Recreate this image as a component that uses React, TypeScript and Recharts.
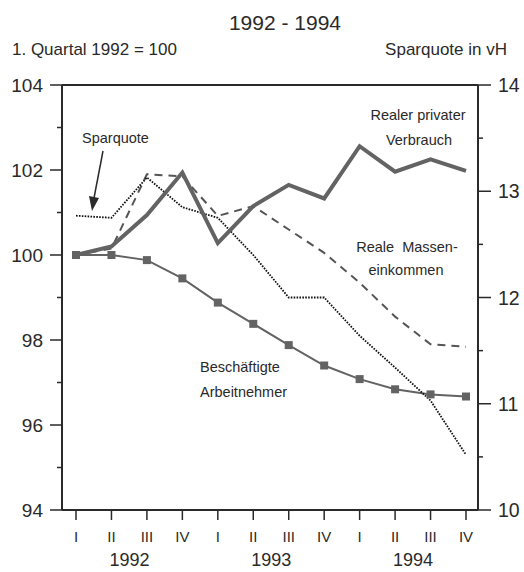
import React from 'react';
import { LineChart, Line, XAxis, YAxis, ReferenceLine } from 'recharts';

const quarters = ['I', 'II', 'III', 'IV', 'I', 'II', 'III', 'IV', 'I', 'II', 'III', 'IV'];
const years = ['1992', '1992', '1992', '1992', '1993', '1993', '1993', '1993', '1994', '1994', '1994', '1994'];

// left axis, 1. Quartal 1992 = 100
const verbrauch = [100, 100.2, 100.94, 101.94, 100.28, 101.15, 101.65, 101.33, 102.56, 101.96, 102.25, 101.98];
const massen = [100, 100.15, 101.9, 101.85, 100.92, 101.15, 100.6, 100.05, 99.35, 98.55, 97.9, 97.84];
const beschaeftigte = [100, 100, 99.88, 99.45, 98.88, 98.38, 97.88, 97.4, 97.08, 96.84, 96.72, 96.67];
// right axis, Sparquote in vH
const sparquote = [12.77, 12.75, 13.13, 12.85, 12.75, 12.4, 12.0, 12.0, 11.64, 11.34, 11.03, 10.52];

const leftTicks = [94, 95, 96, 97, 98, 99, 100, 101, 102, 103, 104];
const rightTicks = [10, 10.5, 11, 11.5, 12, 12.5, 13, 13.5, 14];

const data = quarters.map((q, i) => ({
  key: `${q} ${years[i]}`,
  verbrauch: verbrauch[i],
  massen: massen[i],
  beschaeftigte: beschaeftigte[i],
  sparquote: sparquote[i],
}));

const FONT = '"Liberation Sans", Arial, sans-serif';
const INK = '#2a2a2a';
const GREY = '#636363';

const LeftTick = (props: any) => {
  const { x, y, payload } = props;
  const major = payload.value % 2 === 0;
  return (
    <g>
      <line x1={x} x2={x - (major ? 12 : 5)} y1={y} y2={y} stroke={INK} strokeWidth={1.5} />
      {major && (
        <text x={x - 19} y={y} dy={7} textAnchor="end" fontSize={19} fill={INK} fontFamily={FONT}>
          {payload.value}
        </text>
      )}
    </g>
  );
};

const RightTick = (props: any) => {
  const { x, y, payload } = props;
  const major = Number.isInteger(payload.value);
  return (
    <g>
      <line x1={x} x2={x + (major ? 13 : 5)} y1={y} y2={y} stroke={INK} strokeWidth={1.5} />
      {major && (
        <text x={x + 20} y={y} dy={7} textAnchor="start" fontSize={19.5} fill={INK} fontFamily={FONT}>
          {payload.value}
        </text>
      )}
    </g>
  );
};

const QuarterTick = (props: any) => {
  const { x, y, index } = props;
  return (
    <g>
      <line x1={x} x2={x} y1={y} y2={y + 10} stroke={INK} strokeWidth={1.5} />
      <text x={x} y={y + 32} textAnchor="middle" fontSize={15} fill={INK} fontFamily={FONT}>
        {quarters[index]}
      </text>
      {index % 4 === 1 && (
        <text x={x + 18} y={y + 56} textAnchor="middle" fontSize={18} fill={INK} fontFamily={FONT}>
          {years[index]}
        </text>
      )}
    </g>
  );
};

const SquareDot = (props: any) => {
  const { cx, cy, index } = props;
  if (cx == null || cy == null) return null;
  return <rect key={index} x={cx - 4} y={cy - 4} width={8} height={8} fill={GREY} />;
};

export default function App() {
  const label = { fontFamily: FONT, fontSize: 14.5, fill: INK };
  return (
    <div style={{ position: 'absolute', left: 0, top: 0, width: 524, height: 572, background: '#fff' }}>
      <LineChart
        width={524}
        height={572}
        data={data}
        margin={{ top: 85, right: 0, bottom: 12, left: 0 }}
      >
        <XAxis
          dataKey="key"
          interval={0}
          height={50}
          padding={{ left: 14, right: 12 }}
          tickSize={0}
          tickMargin={0}
          tickLine={false}
          axisLine={{ stroke: INK, strokeWidth: 2 }}
          tick={<QuarterTick />}
        />
        <YAxis
          yAxisId="left"
          orientation="left"
          width={62}
          domain={[94, 104]}
          ticks={leftTicks}
          interval={0}
          tickSize={0}
          tickMargin={0}
          tickLine={false}
          axisLine={{ stroke: INK, strokeWidth: 2 }}
          tick={<LeftTick />}
        />
        <YAxis
          yAxisId="right"
          orientation="right"
          width={46}
          domain={[10, 14]}
          ticks={rightTicks}
          interval={0}
          tickSize={0}
          tickMargin={0}
          tickLine={false}
          axisLine={{ stroke: INK, strokeWidth: 2 }}
          tick={<RightTick />}
        />
        <ReferenceLine yAxisId="left" y={104} stroke={INK} strokeWidth={2} />
        <Line
          yAxisId="left"
          dataKey="beschaeftigte"
          stroke={GREY}
          strokeWidth={2}
          dot={<SquareDot />}
          isAnimationActive={false}
        />
        <Line
          yAxisId="left"
          dataKey="massen"
          stroke="#555"
          strokeWidth={2}
          strokeDasharray="8 6"
          dot={false}
          isAnimationActive={false}
        />
        <Line
          yAxisId="right"
          dataKey="sparquote"
          stroke="#111"
          strokeWidth={1.8}
          strokeDasharray="1.6 1.3"
          dot={false}
          isAnimationActive={false}
        />
        <Line
          yAxisId="left"
          dataKey="verbrauch"
          stroke={GREY}
          strokeWidth={4}
          strokeLinejoin="miter"
          dot={false}
          isAnimationActive={false}
        />
      </LineChart>
      <svg
        width={524}
        height={572}
        style={{ position: 'absolute', left: 0, top: 0, pointerEvents: 'none' }}
      >
        <text x={285} y={30} textAnchor="middle" fontSize={21} fill={INK} fontFamily={FONT}>
          1992 - 1994
        </text>
        <text x={12} y={55} fontSize={17} fill={INK} fontFamily={FONT}>
          1. Quartal 1992 = 100
        </text>
        <text x={507} y={55} textAnchor="end" fontSize={17} fill={INK} fontFamily={FONT}>
          Sparquote in vH
        </text>
        <text x={82} y={143} {...label}>Sparquote</text>
        <line x1={103} y1={151} x2={94} y2={198} stroke={INK} strokeWidth={1.5} />
        <polygon points="89,196 99,198 92,211" fill={INK} />
        <text x={418} y={120} textAnchor="middle" {...label}>Realer privater</text>
        <text x={419} y={145} textAnchor="middle" {...label}>Verbrauch</text>
        <text x={407} y={252} textAnchor="middle" {...label} style={{ whiteSpace: 'pre' }}>
          {'Reale  Massen-'}
        </text>
        <text x={406} y={275} textAnchor="middle" {...label}>einkommen</text>
        <text x={200} y={372} {...label}>Beschäftigte</text>
        <text x={200} y={397} {...label}>Arbeitnehmer</text>
      </svg>
    </div>
  );
}
